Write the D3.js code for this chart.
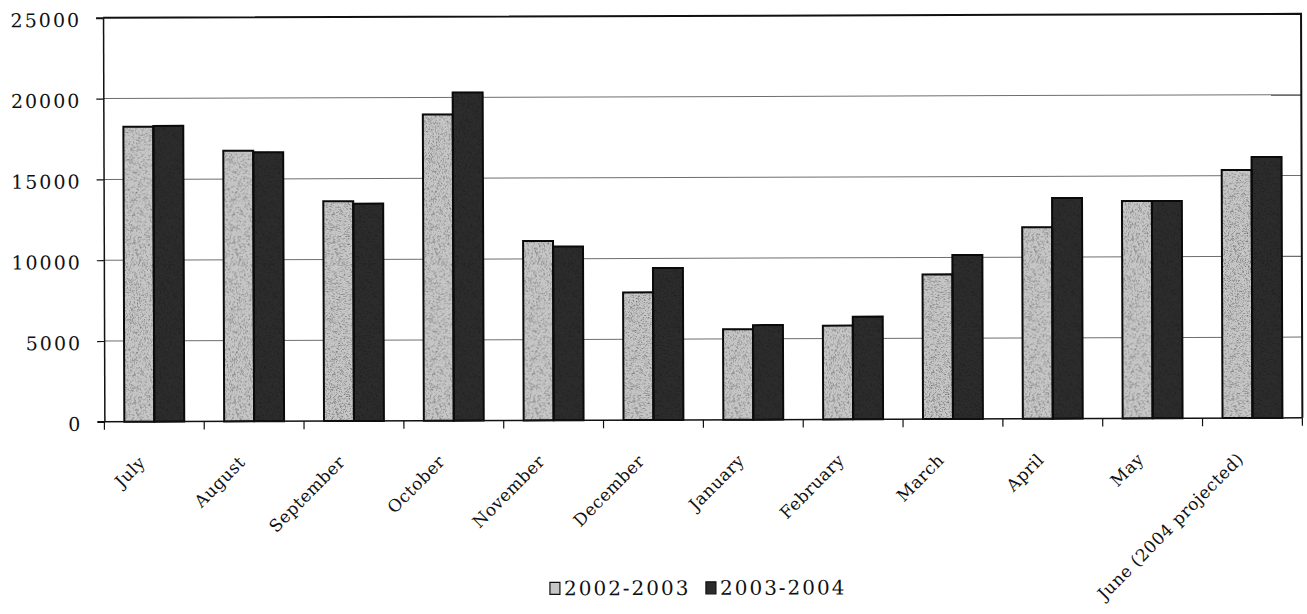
<!DOCTYPE html>
<html>
<head>
<meta charset="utf-8">
<script src="https://cdn.jsdelivr.net/npm/d3@7"></script>
<style>
  html, body { margin: 0; padding: 0; background: #fff; }
  svg { display: block; }
  text { font-family: "DejaVu Serif", "Liberation Serif", serif; fill: #111; }
</style>
</head>
<body>
<svg id="chart" width="1307" height="614"></svg>
<script>
// Monthly totals, July through June, for two fiscal years
const months = ["July", "August", "September", "October", "November", "December",
                "January", "February", "March", "April", "May", "June (2004 projected)"];
const seriesNames = ["2002-2003", "2003-2004"];
const values2002 = [18250, 16750, 13600, 18950, 11100, 7900, 5600, 5800, 8950, 11850, 13450, 15350];
const values2003 = [18300, 16650, 13450, 20300, 10750, 9400, 5850, 6350, 10150, 13650, 13450, 16150];
const yTicks = [0, 5000, 10000, 15000, 20000, 25000];

const colors = { "2002-2003": "#c6c6c6", "2003-2004": "#2c2c2c" };

const svg = d3.select("#chart");
const W = 1307, H = 614;
const plot = { left: 104, right: 1302, top: 16, bottom: 420 };

// grain texture for bar fills
const defs = svg.append("defs");
const grain = defs.append("filter").attr("id", "grain")
  .attr("x", 0).attr("y", 0).attr("width", "100%").attr("height", "100%");
grain.append("feTurbulence").attr("type", "fractalNoise")
  .attr("baseFrequency", 1.6).attr("numOctaves", 2).attr("seed", 7);
grain.append("feColorMatrix").attr("type", "matrix")
  .attr("values", "0 0 0 0 0  0 0 0 0 0  0 0 0 0 0  0 0 0 -3 1.6");

const root = svg.append("g")
  .attr("transform", `rotate(-0.19 ${W / 2} ${H / 2})`);

const x = d3.scaleBand().domain(months)
  .range([plot.left, plot.right]).paddingInner(0.4).paddingOuter(0.2);
const xSeries = d3.scaleBand().domain(seriesNames).range([0, x.bandwidth()]);
const y = d3.scaleLinear().domain([0, 25000]).range([plot.bottom, plot.top]);

// horizontal gridlines
root.append("g").selectAll("line")
  .data(yTicks.filter(t => t > 0 && t < 25000))
  .join("line")
  .attr("x1", plot.left).attr("x2", plot.right)
  .attr("y1", d => y(d)).attr("y2", d => y(d))
  .attr("stroke", "#6e6e6e").attr("stroke-width", 1);

// plot frame: top and right edges
root.append("path")
  .attr("d", `M${plot.left},${y(25000)}H${plot.right}V${plot.bottom}`)
  .attr("fill", "none").attr("stroke", "#111").attr("stroke-width", 2);

// bars
const rows = months.map((m, i) => ({ month: m, vals: [
  { key: "2002-2003", v: values2002[i] },
  { key: "2003-2004", v: values2003[i] }
]}));

const groups = root.append("g").selectAll("g")
  .data(rows).join("g")
  .attr("transform", d => `translate(${x(d.month)},0)`);

groups.selectAll("rect.bar")
  .data(d => d.vals).join("rect")
  .attr("class", "bar")
  .attr("x", d => xSeries(d.key))
  .attr("y", d => y(d.v))
  .attr("width", xSeries.bandwidth())
  .attr("height", d => y(0) - y(d.v))
  .attr("fill", d => colors[d.key]);

groups.selectAll("rect.tex")
  .data(d => d.vals).join("rect")
  .attr("class", "tex")
  .attr("x", d => xSeries(d.key))
  .attr("y", d => y(d.v))
  .attr("width", xSeries.bandwidth())
  .attr("height", d => y(0) - y(d.v))
  .attr("fill", "#fff")
  .attr("filter", "url(#grain)")
  .attr("opacity", d => d.key === "2002-2003" ? 0.4 : 0.3);

groups.selectAll("rect.edge")
  .data(d => d.vals).join("rect")
  .attr("class", "edge")
  .attr("x", d => xSeries(d.key))
  .attr("y", d => y(d.v))
  .attr("width", xSeries.bandwidth())
  .attr("height", d => y(0) - y(d.v))
  .attr("fill", "none")
  .attr("stroke", "#0a0a0a").attr("stroke-width", 2);

// y axis
const yAxis = root.append("g")
  .attr("transform", `translate(${plot.left},0)`)
  .call(d3.axisLeft(y).tickValues(yTicks).tickFormat(d3.format("d"))
    .tickSize(7).tickSizeOuter(0).tickPadding(15));
yAxis.select(".domain").attr("stroke", "#111").attr("stroke-width", 1.5);
yAxis.selectAll(".tick line").attr("stroke", "#111").attr("stroke-width", 1.2);
yAxis.selectAll(".tick text")
  .attr("font-size", 19).attr("letter-spacing", 2)
  .attr("dy", "0.45em").style("font-family", "'DejaVu Serif', serif").attr("fill", "#111");
yAxis.selectAll(".tick").filter(d => d === 25000).select("line").attr("stroke-width", 2);

// x axis: baseline with ticks between categories
const boundaries = d3.range(months.length + 1).map(i => plot.left + i * x.step());
const xAxis = root.append("g");
xAxis.append("line")
  .attr("x1", plot.left - 7).attr("x2", plot.right)
  .attr("y1", y(0)).attr("y2", y(0))
  .attr("stroke", "#111").attr("stroke-width", 1.5);
xAxis.selectAll("line.tick")
  .data(boundaries).join("line").attr("class", "tick")
  .attr("x1", d => d).attr("x2", d => d)
  .attr("y1", y(0)).attr("y2", y(0) + 8)
  .attr("stroke", "#111").attr("stroke-width", 1.2);

xAxis.selectAll("text")
  .data(months).join("text")
  .attr("text-anchor", "end")
  .attr("font-size", 17).attr("letter-spacing", 0.5)
  .attr("transform", d => `translate(${x(d) + x.bandwidth() / 2 - 8},${y(0) + 42}) rotate(-45)`)
  .text(d => d);

// legend
const legend = root.append("g").attr("transform", "translate(549,582)");
const items = legend.selectAll("g").data(seriesNames).join("g")
  .attr("transform", (d, i) => `translate(${i * 156},0)`);
items.append("rect")
  .attr("width", 10).attr("height", 12)
  .attr("fill", d => colors[d]).attr("stroke", "#111").attr("stroke-width", 1.2);
items.append("text")
  .attr("x", 14).attr("y", 13)
  .attr("font-size", 20).attr("letter-spacing", 2)
  .text(d => d);
</script>
</body>
</html>
